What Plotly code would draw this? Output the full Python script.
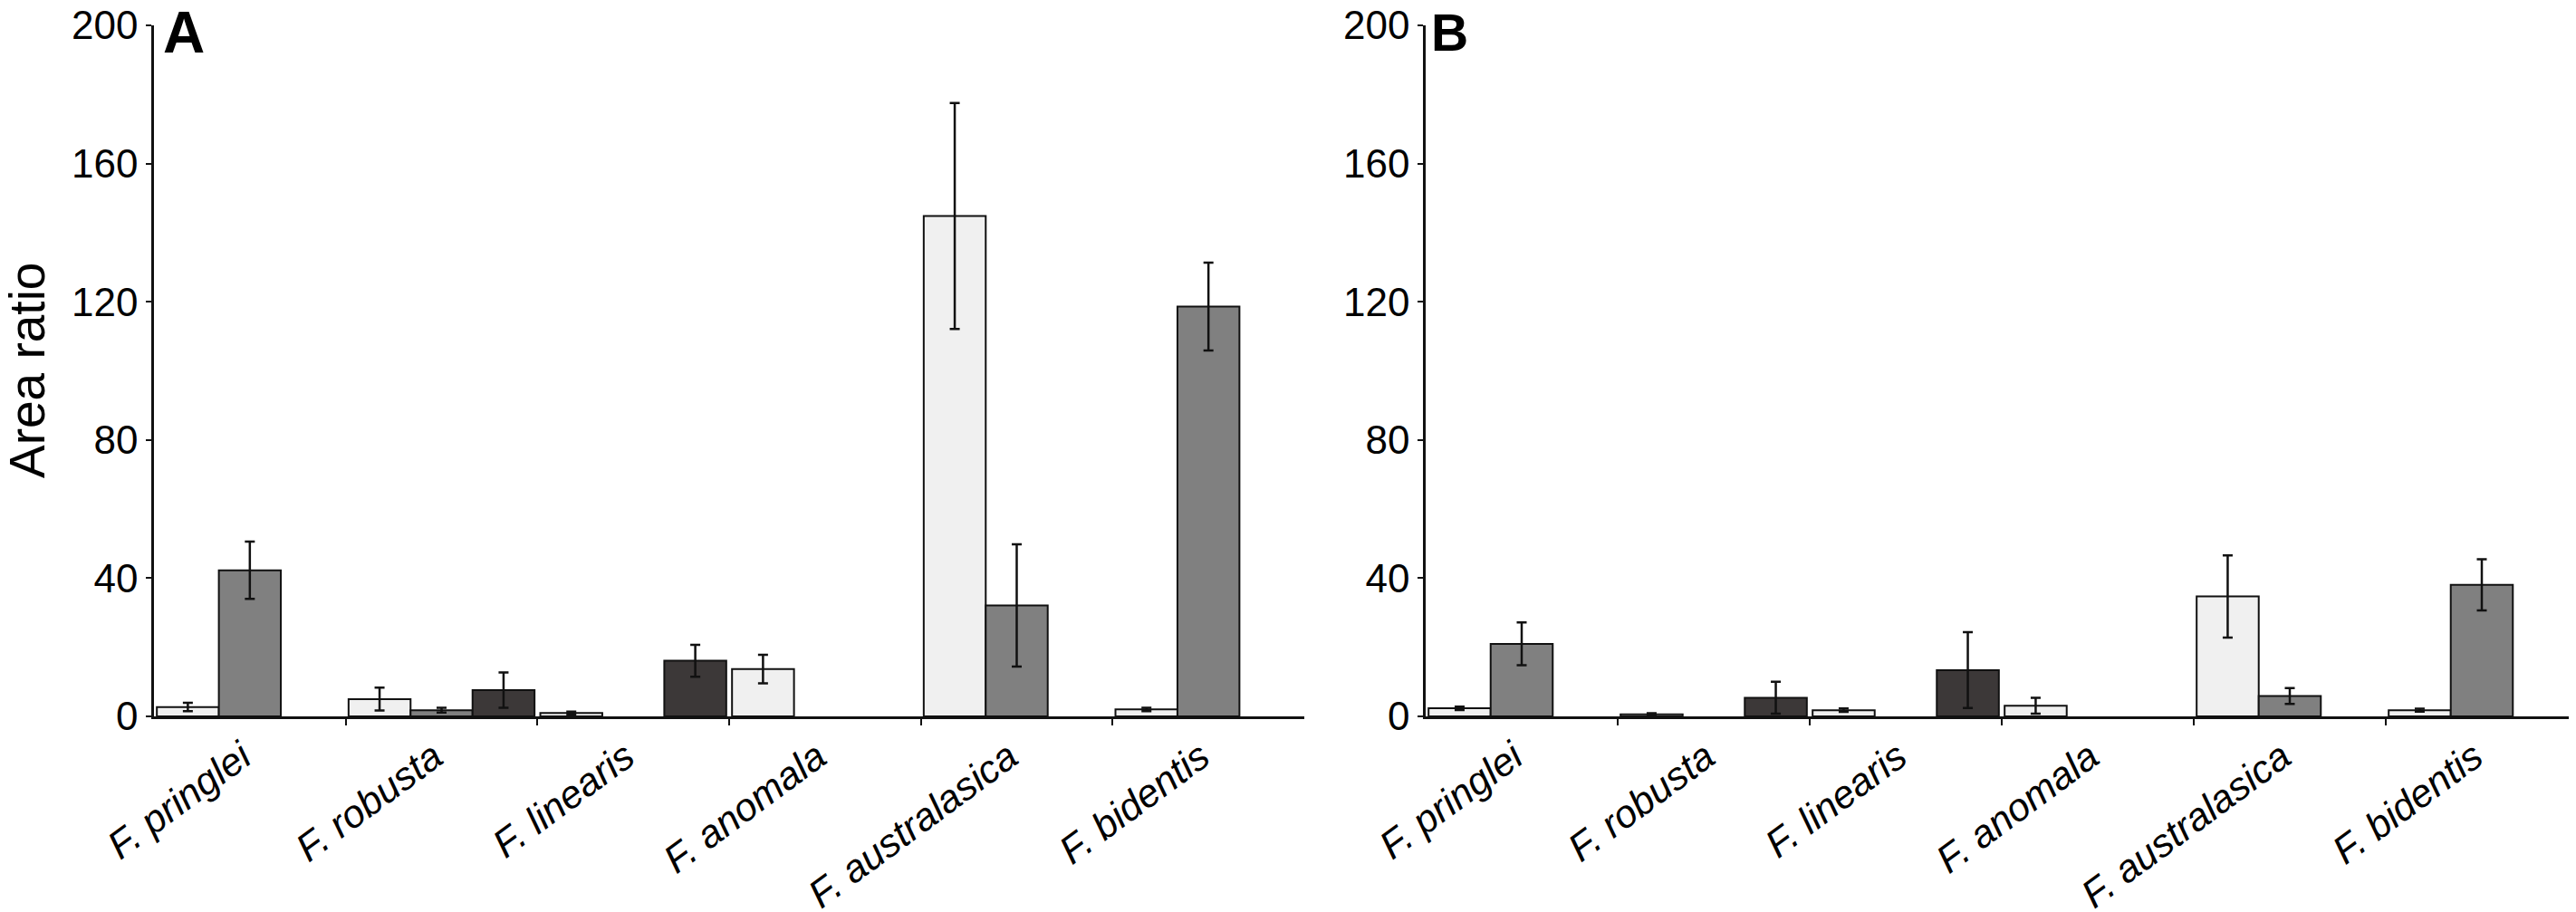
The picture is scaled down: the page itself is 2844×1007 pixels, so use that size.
import plotly.graph_objects as go

W, H = 2844, 1007

species = ["F. pringlei", "F. robusta", "F. linearis", "F. anomala", "F. australasica", "F. bidentis"]
y_ticks = [0, 40, 80, 120, 160, 200]

# Panel A
light_A = [2.7, 5.0, 1.0, 13.7, 144.8, 2.0]
light_A_err = [1.2, 3.3, 0.4, 4.1, 32.7, 0.5]
grey_A = [42.3, 1.8, None, None, 32.1, 118.6]
grey_A_err = [8.3, 0.7, 0, 0, 17.7, 12.7]
dark_A = [None, 7.6, 16.1, None, None, None]
dark_A_err = [0, 5.1, 4.6, 0, 0, 0]

# Panel B
light_B = [2.35, 0.6, 1.8, 3.1, 34.7, 1.8]
light_B_err = [0.5, 0.3, 0.5, 2.3, 11.9, 0.4]
grey_B = [21.0, None, None, None, 5.9, 38.1]
grey_B_err = [6.2, 0, 0, 0, 2.3, 7.4]
dark_B = [None, 5.4, 13.4, None, None, None]
dark_B_err = [0, 4.6, 11.0, 0, 0, 0]

colors = {"light": "#f0f0f0", "grey": "#808080", "dark": "#3c3838"}
xpos = list(range(len(species)))
label_shift = -0.04  # small leftward nudge of the rotated category labels

fig = go.Figure()

def add_panel(xa, ya, series):
    for name, vals, errs in series:
        fig.add_trace(go.Bar(
            x=xpos, y=vals, xaxis=xa, yaxis=ya,
            marker=dict(color=colors[name], line=dict(color="#111111", width=2)),
            error_y=dict(type="data", array=errs, visible=True, color="#111111",
                         thickness=2.5, width=5.5),
            showlegend=False, name=name,
        ))

add_panel("x", "y", [("light", light_A, light_A_err), ("grey", grey_A, grey_A_err), ("dark", dark_A, dark_A_err)])
add_panel("x2", "y2", [("light", light_B, light_B_err), ("grey", grey_B, grey_B_err), ("dark", dark_B, dark_B_err)])

font_family = "Liberation Sans, Arial, sans-serif"

def xaxis_cfg(domain, anchor):
    return dict(
        domain=domain, range=[-0.5, len(species) - 0.5], anchor=anchor,
        tickmode="array", tickvals=[p + label_shift for p in xpos],
        ticktext=[f"<i>{s}</i>" for s in species],
        tickangle=-36.5, ticks="", ticklen=0,
        tickfont=dict(family=font_family, size=43, color="#000"),
        ticklabeloverflow="allow",
        showline=True, linecolor="#111111", linewidth=2.5,
        showgrid=False, zeroline=False, automargin=False,
        minor=dict(tickmode="array", tickvals=[i + 0.5 for i in xpos[:-1]],
                   ticks="outside", ticklen=7, tickwidth=2, tickcolor="#111111",
                   showgrid=False),
        fixedrange=True,
    )

def yaxis_cfg(anchor):
    return dict(
        domain=[1 - 783 / H, 1 - 20 / H], range=[0, 200], anchor=anchor,
        tickmode="array", tickvals=y_ticks,
        ticks="outside", ticklen=6, tickwidth=2, tickcolor="#111111",
        tickfont=dict(family=font_family, size=44, color="#000"),
        ticklabeloverflow="allow",
        showline=True, linecolor="#111111", linewidth=2.5,
        showgrid=False, zeroline=False, automargin=False,
        fixedrange=True,
    )

fig.update_layout(
    width=W, height=H,
    margin=dict(l=0, r=0, t=0, b=0),
    paper_bgcolor="white", plot_bgcolor="white",
    barmode="group", bargap=0.03, bargroupgap=0,
    xaxis=xaxis_cfg([162 / W, 1432 / W], "y"),
    yaxis=yaxis_cfg("x"),
    xaxis2=xaxis_cfg([1566 / W, 2838 / W], "y2"),
    yaxis2=yaxis_cfg("x2"),
    font=dict(family=font_family, color="#000"),
    annotations=[
        dict(text="<b>A</b>", x=170 / W, y=1 + 10 / H, xref="paper", yref="paper",
             xanchor="left", yanchor="top", showarrow=False,
             font=dict(family=font_family, size=64, color="#000")),
        dict(text="<b>B</b>", x=1570 / W, y=1 + 6 / H, xref="paper", yref="paper",
             xanchor="left", yanchor="top", showarrow=False,
             font=dict(family=font_family, size=57, color="#000")),
        dict(text="Area ratio", x=22 / W, y=1 - 401 / H, xref="paper", yref="paper",
             xanchor="center", yanchor="middle", textangle=-90, showarrow=False,
             font=dict(family=font_family, size=55, color="#000")),
    ],
)

fig.write_html("out.html")
